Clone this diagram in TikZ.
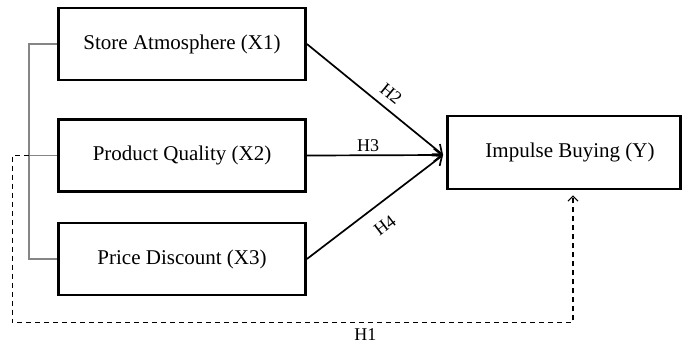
\documentclass[tikz,border=0pt]{standalone}
\usepackage{fontspec}
\setmainfont{Liberation Serif}
\usetikzlibrary{arrows.meta,calc}
\begin{document}
\begin{tikzpicture}[x=1pt,y=-1pt,
  box/.style={draw=black,line width=2.8pt,minimum width=247pt,minimum height=72pt,inner sep=0pt,
    font=\fontsize{21}{25}\selectfont},
  hyp/.style={draw=black,line width=1.7pt,-{Straight Barb[length=8pt,width=13pt,line width=1.7pt]}},
  hlab/.style={font=\fontsize{18}{21}\selectfont,inner sep=2pt},
  brk/.style={draw=black!48,line width=1.4pt},
  dsh/.style={draw=black,line width=1.1pt,dash pattern=on 5pt off 4pt,
    -{Straight Barb[length=5pt,width=10pt,line width=1.1pt]}}]
\useasboundingbox (0,0) rectangle (684,349);
\node[box] (x1) at (182,44) {Store Atmosphere (X1)};
\node[box] (x2) at (182,155.5) {Product Quality (X2)};
\node[box] (x3) at (182,259) {Price Discount (X3)};
\node[box,minimum width=233pt,minimum height=73pt] (y) at (564,152.5)
  {\raisebox{4pt}{\hspace*{12pt}Impulse Buying (Y)}};
\coordinate (tip) at ($(y.west)+(-3,2.5)$);
\draw[hyp] (x1.east) -- (tip) node[hlab,pos=0.55,above=6pt,sloped] {H2};
\draw[hyp] (x2.east) -- (tip) node[hlab,pos=0.45,above=1pt] {H3};
\draw[hyp] (x3.east) -- (tip) node[hlab,pos=0.48,below=12pt,sloped] {H4};
\draw[brk] (x1.west) -- ++(-28,0) coordinate (b1) |- (x3.west);
\draw[brk] (x2.west) -- ++(-28,0) coordinate (j);
\coordinate (yb) at ($(y.south)+(9,5)$);
\draw[dsh] (j) -- ++(-17,0) -- ++(0,167) coordinate (c2)
  -- (c2 -| yb) node[hlab,pos=0.63,below=4pt] {H1} -- (yb);
\end{tikzpicture}
\end{document}
